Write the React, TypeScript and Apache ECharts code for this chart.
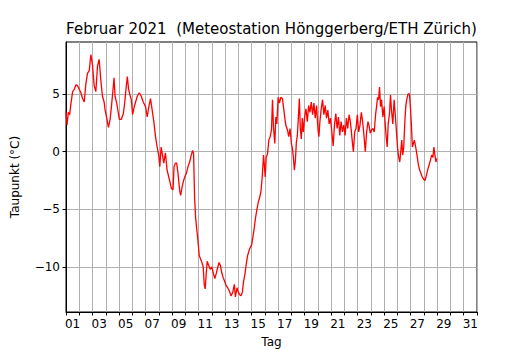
import React, { useEffect, useRef } from "react";
import * as echarts from "echarts";

const titleText = "Februar 2021  (Meteostation Hönggerberg/ETH Zürich)";
const yName = "Taupunkt (°C)";
const xName = "Tag";

const dayLabels = [
  "01", "02", "03", "04", "05", "06", "07", "08", "09", "10",
  "11", "12", "13", "14", "15", "16", "17", "18", "19", "20",
  "21", "22", "23", "24", "25", "26", "27", "28", "29", "30", "31",
];

const yTicks = [-10, -5, 0, 5];

// [Tag seit 1. Feb 00:00, Taupunkt °C]
const woche1 = [
  [0.0, 3.5], [0.075, 2.3], [0.175, 3.4], [0.275, 3.2], [0.375, 4.2], [0.5, 5.2],
  [0.625, 5.4], [0.75, 5.8], [0.875, 5.7], [1.0, 5.4], [1.125, 5.1], [1.25, 4.6],
  [1.375, 4.3], [1.5, 5.9], [1.625, 6.8], [1.75, 7.0], [1.875, 8.4], [2.0, 7.5],
  [2.125, 5.7], [2.25, 5.2], [2.375, 7.4], [2.5, 8.0], [2.625, 6.2], [2.75, 4.8],
  [2.875, 4.3], [2.95, 3.6], [3.075, 2.9], [3.2, 2.1], [3.325, 2.8], [3.425, 3.9],
  [3.525, 5.1], [3.625, 6.4], [3.7, 4.8], [3.825, 4.2], [3.925, 3.5], [4.025, 2.8],
  [4.175, 2.8], [4.325, 3.3], [4.425, 4.2], [4.525, 5.4], [4.625, 6.5], [4.725, 5.4],
  [4.825, 4.9], [4.925, 4.5], [5.025, 3.2], [5.125, 3.8], [5.25, 4.3], [5.375, 4.8],
  [5.525, 5.1], [5.675, 4.8], [5.825, 4.3], [6.0, 3.9], [6.125, 3.0], [6.25, 3.9],
  [6.375, 4.6], [6.5, 3.6], [6.625, 2.6], [6.75, 1.3], [6.875, 0.4], [7.0, -0.4],
];

const woche2 = [
  [7.075, -1.3], [7.175, 0.4], [7.275, -0.3], [7.375, -1.0], [7.5, -0.1], [7.625, -1.6],
  [7.75, -2.2], [7.875, -2.8], [7.95, -3.2], [8.075, -3.3], [8.15, -1.3], [8.25, -1.0],
  [8.35, -1.0], [8.45, -1.9], [8.575, -3.4], [8.65, -3.8], [8.75, -3.1], [8.85, -2.6],
  [8.95, -2.2], [9.075, -1.9], [9.2, -1.3], [9.325, -0.9], [9.45, -0.3], [9.55, 0.1],
  [9.625, -0.2], [9.7, -4.0], [9.775, -5.7], [9.85, -6.6], [9.95, -7.7], [10.05, -9.0],
  [10.15, -9.3], [10.25, -9.6], [10.35, -10.0], [10.425, -11.5], [10.5, -11.9], [10.575, -10.6],
  [10.65, -9.5], [10.775, -9.9], [10.875, -10.2], [11.0, -10.0], [11.125, -10.6], [11.225, -11.0],
  [11.325, -10.6], [11.45, -10.0], [11.55, -9.6], [11.65, -9.9], [11.75, -10.5], [11.85, -10.9],
  [11.95, -11.2], [12.075, -11.6], [12.2, -11.8], [12.325, -12.1], [12.45, -12.5], [12.575, -12.2],
  [12.7, -11.5], [12.775, -12.6], [12.9, -11.8], [13.0, -12.2], [13.1, -12.4], [13.2, -12.5],
  [13.3, -12.2], [13.4, -11.2], [13.5, -10.6], [13.6, -9.7], [13.7, -9.0], [13.8, -8.6],
  [13.9, -8.3], [14.0, -8.1],
];

const woche3 = [
  [14.1, -7.4], [14.2, -6.6], [14.3, -5.7], [14.4, -5.0], [14.5, -4.4], [14.6, -4.0],
  [14.7, -3.5], [14.8, -2.2], [14.9, -0.3], [14.95, -1.0], [15.025, -2.2], [15.1, -0.5],
  [15.2, -0.2], [15.3, 1.0], [15.4, 1.3], [15.5, 1.9], [15.575, 4.5], [15.65, 2.1],
  [15.75, 0.7], [15.825, 3.0], [15.9, 2.4], [16.0, 4.7], [16.1, 4.2], [16.2, 4.7],
  [16.325, 4.6], [16.4, 3.9], [16.475, 3.2], [16.575, 2.3], [16.7, 1.9], [16.8, 1.3],
  [16.9, 2.0], [17.0, 0.7], [17.075, 0.3], [17.15, -0.5], [17.225, -1.6], [17.3, -0.8],
  [17.375, 0.8], [17.45, 1.4], [17.525, 2.9], [17.6, 4.6], [17.675, 2.0], [17.75, 1.1],
  [17.825, 2.9], [17.9, 1.7], [18.0, 3.0], [18.1, 3.7], [18.2, 2.6], [18.3, 4.0],
  [18.4, 3.4], [18.5, 4.3], [18.6, 3.2], [18.7, 4.2], [18.8, 2.9], [18.9, 4.0],
  [19.0, 2.0], [19.075, 1.3], [19.15, 2.6], [19.25, 3.7], [19.35, 4.5], [19.45, 3.2],
  [19.55, 4.0], [19.65, 2.9], [19.75, 3.6], [19.85, 2.4], [19.95, 2.9], [20.05, 1.7],
  [20.15, 0.5], [20.25, 2.3], [20.35, 3.3], [20.45, 2.0], [20.55, 3.0], [20.65, 1.4],
  [20.75, 2.6], [20.85, 1.7], [20.95, 2.3],
];

const woche4 = [
  [21.05, 1.4], [21.15, 2.9], [21.25, 2.0], [21.35, 3.2], [21.45, 2.6], [21.575, 1.1],
  [21.675, 0.0], [21.775, 1.7], [21.875, 2.0], [21.975, 3.2], [22.075, 1.7], [22.175, 2.3],
  [22.275, 3.4], [22.375, 2.6], [22.475, 1.4], [22.575, 0.0], [22.675, 1.7], [22.775, 2.6],
  [22.85, 2.3], [22.95, 1.6], [23.05, 1.9], [23.15, 2.0], [23.25, 1.7], [23.35, 3.2],
  [23.425, 3.9], [23.5, 4.7], [23.575, 4.5], [23.65, 5.6], [23.725, 3.9], [23.8, 4.5],
  [23.9, 3.0], [24.0, 3.9], [24.075, 2.4], [24.15, 1.3], [24.225, 0.4], [24.3, 2.4],
  [24.4, 3.3], [24.475, 4.9], [24.55, 3.6], [24.65, 2.4], [24.75, 4.5], [24.85, 3.0],
  [24.95, 1.3], [25.025, 0.1], [25.1, -0.5], [25.175, -0.9], [25.25, 0.0], [25.325, 1.0],
  [25.4, -0.3], [25.475, 0.4], [25.55, 2.4], [25.625, 3.9], [25.7, 4.5], [25.8, 5.0],
  [25.9, 5.0], [25.975, 3.9], [26.05, 2.4], [26.125, 0.4], [26.2, 0.7], [26.275, 1.0],
  [26.375, 0.4], [26.475, -0.3], [26.575, -1.1], [26.675, -1.6], [26.775, -1.9], [26.875, -2.2],
  [26.975, -2.4], [27.075, -2.5], [27.175, -2.1], [27.275, -1.6], [27.375, -1.2], [27.475, -0.8],
  [27.575, -0.3], [27.675, -0.5], [27.75, 0.4], [27.825, -0.3], [27.9, -0.9], [27.97, -0.6],
];

const FONT = "DejaVu Sans";

export default function App() {
  const ref = useRef<HTMLDivElement>(null);

  useEffect(() => {
    document.body.style.margin = "0";
    if (!ref.current) return;
    const chart = echarts.init(ref.current, undefined, { renderer: "svg" });
    const data = [...woche1, ...woche2, ...woche3, ...woche4];
    const plotLeft = 66;
    const plotRight = 477;
    const plotTop = 42;
    const plotBottom = 312;
    const cx = (plotLeft + plotRight) / 2;

    chart.setOption({
      animation: false,
      backgroundColor: "#ffffff",
      textStyle: { fontFamily: FONT },
      grid: {
        left: plotLeft,
        right: 530 - plotRight,
        top: plotTop,
        bottom: 350 - plotBottom,
        show: true,
        borderColor: "#000000",
        borderWidth: 1,
        backgroundColor: "transparent",
        containLabel: false,
      },
      xAxis: [
        {
          type: "category",
          data: dayLabels,
          boundaryGap: true,
          position: "bottom",
          axisLine: { show: true, onZero: false, lineStyle: { color: "#000000", width: 1 } },
          axisTick: {
            show: true,
            interval: 0,
            length: 3.5,
            alignWithLabel: false,
            lineStyle: { color: "#000000", width: 1 },
          },
          axisLabel: {
            interval: 1,
            margin: 6,
            color: "#000000",
            fontSize: 12,
            fontFamily: FONT,
          },
          splitLine: {
            show: true,
            interval: 0,
            lineStyle: { color: "#b0b0b0", width: 1 },
          },
        },
        {
          type: "value",
          min: 0,
          max: 31,
          show: false,
        },
      ],
      yAxis: {
        type: "value",
        min: -13.9,
        max: 9.5,
        axisLine: { show: true, onZero: false, lineStyle: { color: "#000000", width: 1 } },
        axisTick: {
          show: true,
          length: 3.5,
          customValues: yTicks,
          lineStyle: { color: "#000000", width: 1 },
        },
        axisLabel: {
          customValues: yTicks,
          margin: 6,
          color: "#000000",
          fontSize: 12,
          fontFamily: FONT,
          formatter: (v: number) => String(v).replace("-", "\u2212"),
        },
        splitLine: { show: true, lineStyle: { color: "#b0b0b0", width: 1 } },
      },
      graphic: [
        {
          type: "text",
          x: cx,
          y: 28.5,
          style: {
            text: titleText,
            fill: "#000000",
            font: `15px '${FONT}'`,
            textAlign: "center",
            textVerticalAlign: "middle",
          },
        },
        {
          type: "text",
          x: 14.5,
          y: (plotTop + plotBottom) / 2,
          rotation: Math.PI / 2,
          style: {
            text: yName,
            fill: "#000000",
            font: `12px '${FONT}'`,
            textAlign: "center",
            textVerticalAlign: "middle",
          },
        },
        {
          type: "text",
          x: cx,
          y: 342,
          style: {
            text: xName,
            fill: "#000000",
            font: `12px '${FONT}'`,
            textAlign: "center",
            textVerticalAlign: "middle",
          },
        },
      ],
      series: [
        {
          type: "line",
          xAxisIndex: 1,
          data,
          showSymbol: false,
          symbol: "none",
          lineStyle: { color: "#ff0000", width: 1.3 },
          z: 3,
        },
      ],
    });

    return () => chart.dispose();
  }, []);

  return <div ref={ref} style={{ width: 530, height: 350 }} />;
}
